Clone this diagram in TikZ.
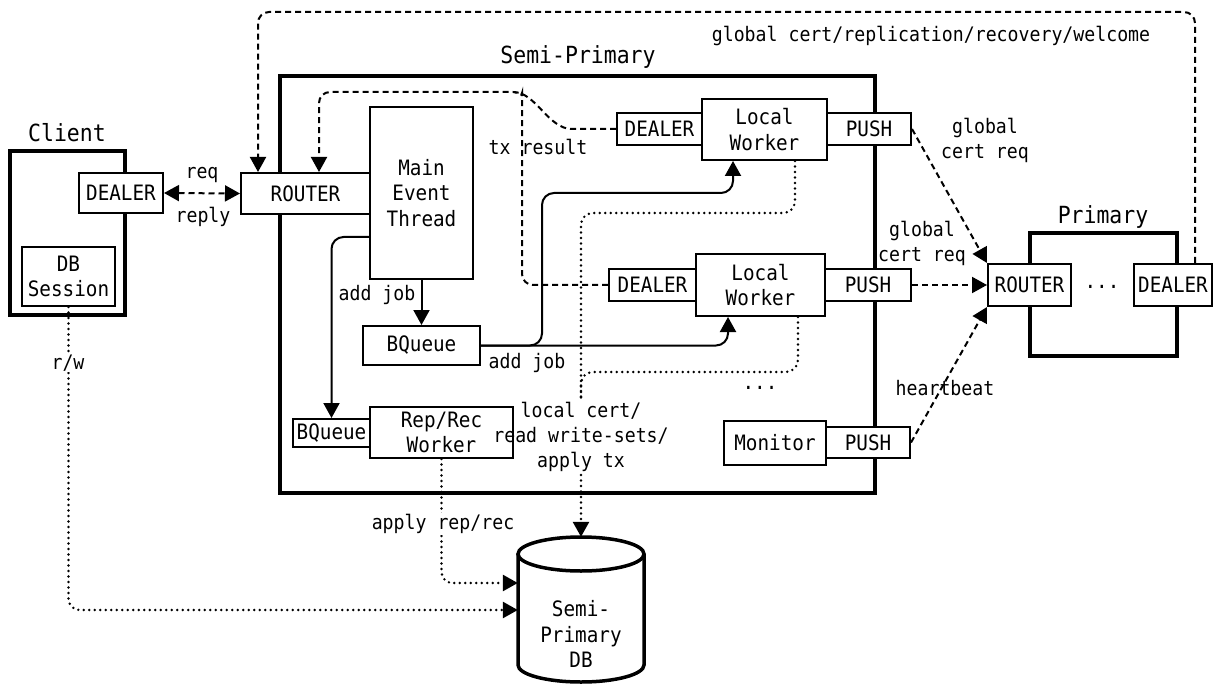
\documentclass[tikz,border=0pt]{standalone}
\usepackage{fontspec}
\newfontfamily\dvmono[FakeStretch=0.91]{DejaVu Sans Mono}
\usetikzlibrary{arrows.meta,calc}
\newcommand\dfnode{\dvmono\fontsize{21.2}{25.5}\selectfont}
\newcommand\dflabel{\dvmono\fontsize{20}{25}\selectfont}
\newcommand\dftitle{\dvmono\fontsize{23.6}{26}\selectfont}
\begin{document}
\begin{tikzpicture}[x=1pt,y=-1pt,
  box/.style={draw, line width=2pt, fill=white, inner sep=0pt, font=\dfnode, align=center},
  frame/.style={draw, line width=4pt, inner sep=0pt},
  title/.style={font=\dftitle, inner sep=0pt},
  lbl/.style={font=\dflabel, inner sep=1pt, align=center},
  wire/.style={line width=2pt},
  dashline/.style={line width=2pt, dash pattern=on 6pt off 4pt},
  dotline/.style={line width=2.7pt, line cap=round, dash pattern=on 0pt off 5.5pt},
  tip/.style={-{Triangle[length=15pt,width=16pt]}},
  tips/.style={{Triangle[length=15pt,width=16pt]}-{Triangle[length=15pt,width=16pt]}}]
\useasboundingbox (0,0) rectangle (1214,684);

% ---------- Client ----------
\node[frame, minimum width=115pt, minimum height=164pt] (client) at (67.5,233) {};
\node[title] (clienttitle) at (67,133) {Client};
\node[box, minimum width=84pt, minimum height=40pt] (cdealer) at (121,193) {DEALER};
\node[box, minimum width=93pt, minimum height=59pt] (dbsess) at (68.5,276.5) {DB\\Session};

% ---------- Semi-Primary ----------
\node[frame, minimum width=595pt, minimum height=417pt] (semi) at (577.5,284.5) {};
\node[title] (semititle) at (578,57) {Semi-Primary};
\node[box, minimum width=129pt, minimum height=41pt] (srouter) at (305.5,193.5) {ROUTER};
\node[box, minimum width=103pt, minimum height=172pt] (met) at (421.5,193) {Main\\Event\\Thread};
\node[box, minimum width=117pt, minimum height=39pt] (bq1) at (421.5,345.5) {BQueue};
\node[box, minimum width=77pt, minimum height=28pt] (bq2) at (331.5,433) {BQueue};
\node[box, minimum width=143pt, minimum height=51pt] (rrw) at (441.5,432.5) {Rep/Rec\\Worker};

\node[box, minimum width=85pt, minimum height=32pt] (dealer1) at (659.5,129) {DEALER};
\node[box, minimum width=125pt, minimum height=61pt] (lw1) at (764.5,129.5) {Local\\Worker};
\node[box, minimum width=84pt, minimum height=32pt] (push1) at (869,129) {PUSH};

\node[box, minimum width=87pt, minimum height=32pt] (dealer2) at (652.5,285) {DEALER};
\node[box, minimum width=129pt, minimum height=62pt] (lw2) at (760.5,285) {Local\\Worker};
\node[box, minimum width=86pt, minimum height=32pt] (push2) at (868,285) {PUSH};

\node[font=\dfnode, inner sep=0pt] (moredots) at (760,388) {...};
\node[box, minimum width=102pt, minimum height=44pt] (monitor) at (775,443) {Monitor};
\node[box, minimum width=84pt, minimum height=31pt] (push3) at (868,442.5) {PUSH};

\node[lbl, inner sep=3pt] (lcert) at (581,437) {local cert/\\read write-sets/\\apply tx};

% ---------- Primary ----------
\node[frame, minimum width=147pt, minimum height=123pt] (prim) at (1103.5,294.5) {};
\node[title] (primtitle) at (1103,217) {Primary};
\node[box, minimum width=83pt, minimum height=42pt] (prouter) at (1029.5,285) {ROUTER};
\node[box, minimum width=78pt, minimum height=42pt] (pdealer) at (1173,285) {DEALER};
\node[font=\dfnode, inner sep=0pt] (pdots) at (1102,287) {...};

% ---------- Semi-Primary DB (cylinder) ----------
\node[inner sep=0pt, minimum width=126pt, minimum height=145pt] (db) at (581,609.5) {};
\draw[line width=3.5pt] (581,554) ellipse [x radius=63pt, y radius=17pt];
\draw[line width=3.5pt] (518,554) -- (518,665)
  arc[start angle=180, end angle=360, x radius=63pt, y radius=17pt] -- (644,554);
\node[font=\dfnode, align=center, inner sep=0pt] (dbtext) at (581,634) {Semi-\\Primary\\DB};

% ---------- connectors ----------
% client <-> router
\draw[dashline, tips] (cdealer.east) -- (srouter.west);
\node[lbl] (reqlbl) at (202,175) {req};
\node[lbl] (replylbl) at (203,217) {reply};

% global messages from the primary back to the router
\draw[dashline, tip, rounded corners=11pt] ([xshift=22pt]pdealer.north) -- (1195,12) -- (258,12)
  -- ([xshift=-47.5pt]srouter.north);
\node[lbl] (globallbl) at (931,36) {global cert/replication/recovery/welcome};

% tx results from local workers
\draw[dashline, tip] (dealer1.west) -- (572,129)
  .. controls (548,129) and (536,92) .. (513,92)
  [rounded corners=11pt] -- (319,92) -- ([xshift=13.5pt]srouter.north);
\draw[dashline, rounded corners=11pt] (dealer2.west) -- (522,285) -- (522,104)
  [sharp corners] .. controls (522,97) and (519,93) .. (514,92);
\node[lbl] (txlbl) at (538,147) {tx result};

% jobs
\draw[wire, tip] (met.south) -- (bq1.north);
\node[lbl] (addjob1) at (377,295) {add job};
\draw[wire, tip, rounded corners=12pt] ([yshift=-44pt]met.west) -| (bq2.north);
\draw[wire, tip, rounded corners=12pt] (bq1.east) -| (542,193) -| ([xshift=-31.5pt]lw1.south);
\draw[wire, tip, rounded corners=12pt] (bq1.east) -| ([xshift=-32.5pt]lw2.south);
\node[lbl] (addjob2) at (527,363) {add job};

% database access
\draw[dotline, tip, rounded corners=11pt] (rrw.south) |- ([yshift=26.5pt]db.west);
\node[lbl, fill=white] (applylbl) at (443,524) {apply rep/rec};
\draw[dotline, tip, rounded corners=11pt] (dbsess.south) |- ([yshift=-0.5pt]db.west);
\node[lbl, fill=white] (rwlbl) at (68,363) {r/w};

\draw[dotline, rounded corners=12pt] ([xshift=30.5pt]lw1.south) |- (581,213) -- (lcert.north);
\draw[dotline, rounded corners=12pt] ([xshift=37.5pt]lw2.south) |- (581,372) -- (lcert.north);
\draw[dotline, tip] (lcert.south) -- (db.north);

% towards the primary
\draw[dashline, tip] (push1.east) -- (prouter.north west);
\node[lbl] (gcr1) at (985,140) {global\\cert req};
\draw[dashline, tip] (push2.east) -- (prouter.west);
\node[lbl] (gcr2) at (922,243) {global\\cert req};
\draw[dashline, tip] (push3.east) -- (prouter.south west);
\node[lbl] (hblbl) at (945,388) {heartbeat};
\end{tikzpicture}
\end{document}
